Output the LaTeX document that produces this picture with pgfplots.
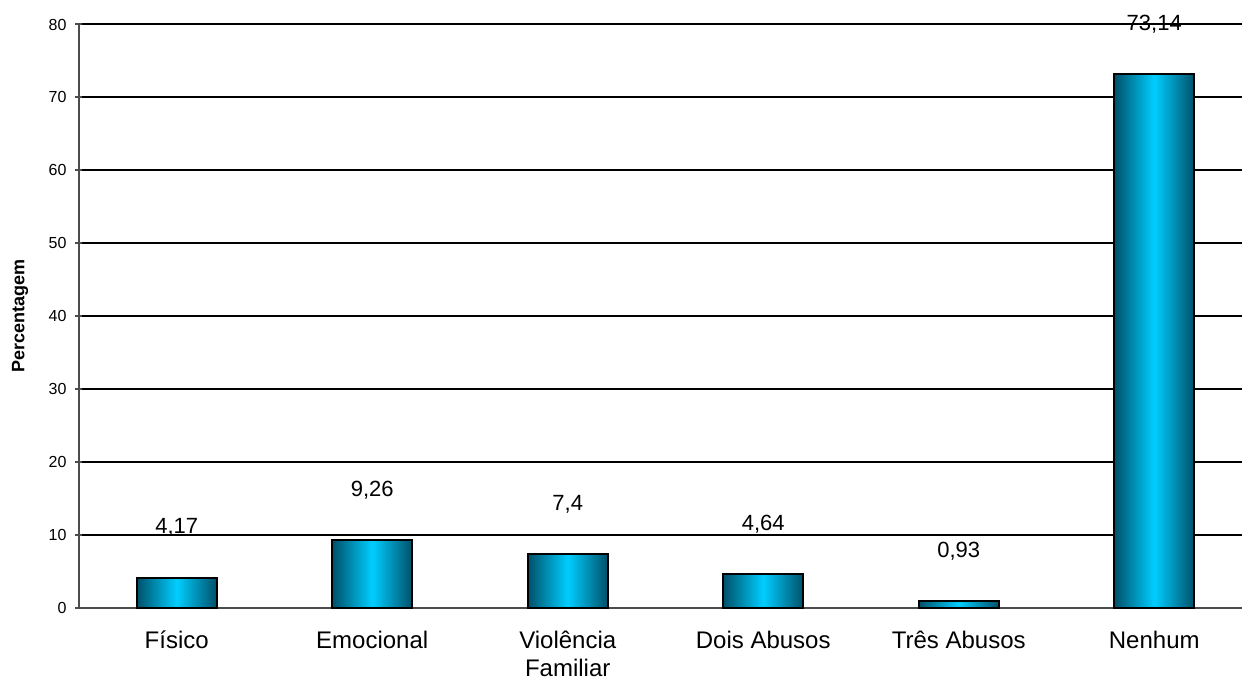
\documentclass[border=0pt]{standalone}
\usepackage{pgfplots}
\pgfplotsset{compat=1.18}
\usepackage{fontspec}
\setmainfont{Liberation Sans}
\definecolor{bardark}{RGB}{0,80,105}
\definecolor{barlight}{RGB}{0,206,255}
\pgfplotsset{
  cylbar/.style={ybar, bar width=0.41, bar shift=0pt, draw=black, line width=1pt,
    left color=bardark, right color=bardark, middle color=barlight,
    point meta=explicit symbolic,
    nodes near coords,
    nodes near coords style={font=\fontsize{11}{13}\selectfont, anchor=center, yshift=25pt, text=black}},
}
\begin{document}
\begin{tikzpicture}
\useasboundingbox (-39.5pt,-37.5pt) rectangle (581.5pt,304pt);
\begin{axis}[
  at={(0,0)}, anchor=south west,
  scale only axis,
  width=586.5pt, height=292pt,
  xmin=-0.5, xmax=5.5,
  ymin=0, ymax=80,
  ytick={0,10,...,80},
  xtick={0,1,2,3,4,5},
  xticklabels={Físico,Emocional,{Violência\\Familiar},Dois Abusos,Três Abusos,Nenhum},
  typeset ticklabels with strut,
  xticklabel style={align=center, font=\fontsize{12}{14}\selectfont, yshift=-5pt},
  x tick style={draw=none},
  extra x ticks={-0.5,0.5,1.5,2.5,3.5,4.5,5.5},
  extra x tick labels={},
  extra x tick style={tick style={draw=black!70, line width=0.6pt}, tick align=outside, major tick length=3.5pt},
  y tick style={draw=black!70, line width=0.6pt},
  tick align=outside,
  major tick length=3.5pt,
  yticklabel style={font=\fontsize{8}{10}\selectfont, xshift=-1pt, yshift=-1pt},
  /pgf/number format/assume math mode=true,
  axis x line=bottom, axis y line=left,
  axis line style={-, line width=0.6pt, black!70},
  ymajorgrids, grid style={black, line width=0.6pt},
  ylabel={Percentagem},
  every axis y label/.style={at={(axis description cs:-0.0503,0.5)}, rotate=90, anchor=center, font=\fontsize{9}{11}\selectfont\bfseries},
  clip=false,
]
\addplot[cylbar] coordinates {(0,4.17) [4,17]};
\addplot[cylbar] coordinates {(1,9.26) [9,26]};
\addplot[cylbar] coordinates {(2,7.4) [7,4]};
\addplot[cylbar] coordinates {(3,4.64) [4,64]};
\addplot[cylbar] coordinates {(4,0.93) [0,93]};
\addplot[cylbar] coordinates {(5,73.14) [73,14]};
\end{axis}
\end{tikzpicture}
\end{document}
